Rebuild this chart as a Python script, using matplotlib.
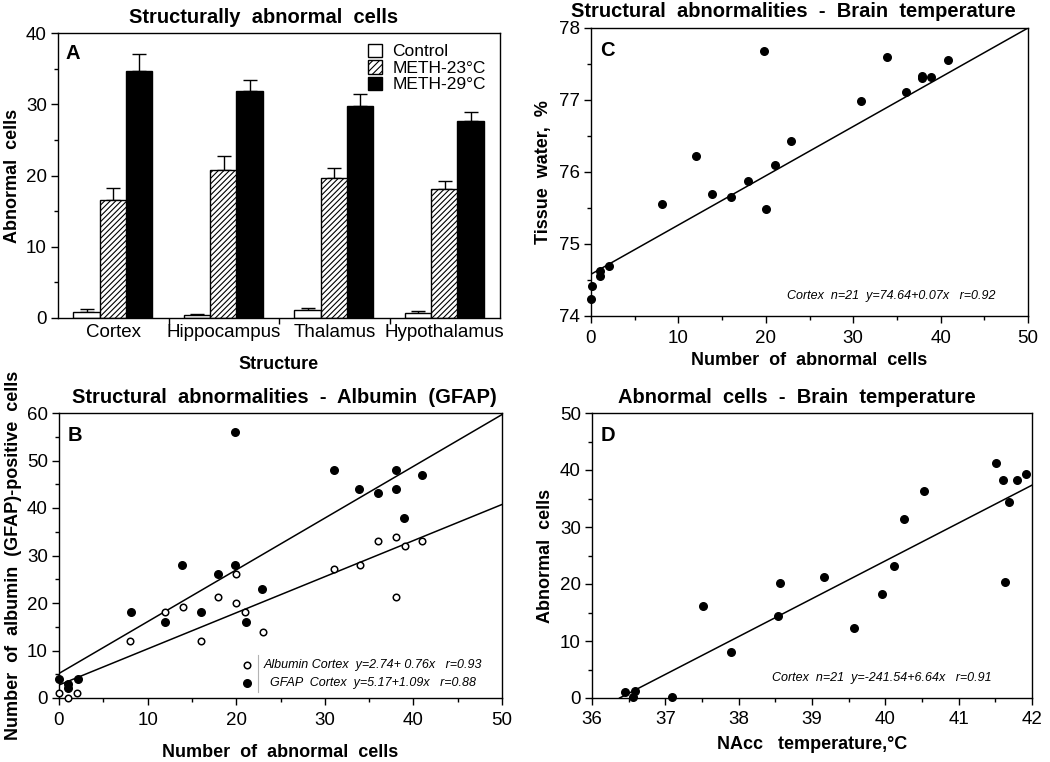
import matplotlib
matplotlib.use("Agg")
import matplotlib.pyplot as plt
from matplotlib.patches import Patch
from matplotlib.ticker import MultipleLocator
from matplotlib import font_manager
import numpy as np

# ---------------- data ----------------
structures = ["Cortex", "Hippocampus", "Thalamus", "Hypothalamus"]
group_names = ["Control", "METH-23°C", "METH-29°C"]
control_mean = [0.9, 0.45, 1.1, 0.75]
control_err = [0.35, 0.15, 0.35, 0.2]
meth23_mean = [16.5, 20.8, 19.7, 18.1]
meth23_err = [1.75, 2.0, 1.4, 1.1]
meth29_mean = [34.7, 31.8, 29.8, 27.6]
meth29_err = [2.35, 1.65, 1.7, 1.3]

# Panel B
gfap_x = [0, 1, 1, 2.1, 8.1, 12, 13.9, 16, 18, 19.9, 19.9, 21.1, 22.9, 31, 33.9, 36, 38, 38, 38.9, 41]
gfap_y = [4.0, 3.0, 2.1, 4.0, 18.2, 16.1, 28.0, 18.2, 26.2, 56.0, 28.0, 16.1, 22.9, 48.1, 43.9, 43.1, 48.1, 43.9, 38.0, 46.9]
alb_x = [0, 1, 2, 8, 12, 14, 16, 18, 20, 20, 21, 23, 31, 34, 36, 38, 38, 39, 41]
alb_y = [1.0, 0.1, 1.0, 12.0, 18.2, 19.1, 12.0, 21.2, 26.2, 20.0, 18.2, 14.0, 27.2, 28.0, 33.0, 34.0, 21.2, 32.1, 33.0]
alb_fit = [2.74, 0.76]
gfap_fit = [5.17, 1.09]

# Panel C
c_x = [0.1, 0, 1.0, 1.0, 2.1, 8.1, 12.0, 13.9, 16.0, 18.0, 19.8, 20.0, 21.0, 22.9, 30.9, 33.9, 36.0, 37.9, 37.9, 38.9, 40.9]
c_y = [74.42, 74.24, 74.62, 74.56, 74.69, 75.55, 76.22, 75.69, 75.65, 75.88, 77.68, 75.49, 76.10, 76.43, 76.98, 77.60, 77.11, 77.34, 77.30, 77.32, 77.56]
c_fit = [74.58, 0.0684]

# Panel D
d_x = [36.45, 36.58, 36.56, 37.09, 37.51, 37.89, 38.53, 38.56, 39.16, 39.57, 39.96, 40.12, 40.25, 40.53, 41.51, 41.60, 41.63, 41.68, 41.79, 41.92]
d_y = [1.05, 1.17, 0.1, 0.1, 16.2, 8.0, 14.3, 20.2, 21.2, 12.3, 18.3, 23.2, 31.4, 36.3, 41.3, 38.3, 20.3, 34.4, 38.3, 39.3]
d_fit = [-241.54, 6.64]

# ---------------- style ----------------
plt.rcParams['font.family'] = ['Liberation Sans', 'DejaVu Sans']
plt.rcParams['hatch.linewidth'] = 0.8
available = {f.name for f in font_manager.fontManager.ttflist}
if 'Liberation Sans Narrow' in available:
    ann_font = dict(family=['Liberation Sans Narrow', 'DejaVu Sans'], style='italic', fontsize=10.5)
else:
    ann_font = dict(family=['Liberation Sans', 'DejaVu Sans'], style='italic', fontsize=9)

W, H = 1050, 762
fig = plt.figure(figsize=(W / 100, H / 100), dpi=100)


def rect(l, r, t, b):
    return [l / W, (H - b) / H, (r - l) / W, (b - t) / H]


def style_axes(ax):
    for s in ax.spines.values():
        s.set_linewidth(1.0)
    ax.tick_params(which='both', direction='out', top=False, right=False, labelsize=13.5)
    ax.tick_params(which='major', length=5, width=1.0)
    ax.tick_params(which='minor', length=3, width=1.0)
    ax.tick_params(axis='y', pad=3)


TITLE = dict(fontsize=14.5, fontweight='bold')
LABEL = dict(fontsize=13, fontweight='bold')
LETTER = dict(fontsize=14.5, fontweight='bold', va='top')
MS_FILLED = 30
MS_OPEN = 22

# ---------------- Panel A ----------------
axA = fig.add_axes(rect(58, 500, 33, 318))
style_axes(axA)
xg = np.arange(len(structures))
bw = 0.24
offs = [-0.24, 0.0, 0.235]
means = [control_mean, meth23_mean, meth29_mean]
errs = [control_err, meth23_err, meth29_err]
faces = ['white', 'white', 'black']
hatches = [None, '//////', None]
for m, e, o, fc, h in zip(means, errs, offs, faces, hatches):
    axA.bar(xg + o, m, width=bw, color=fc, edgecolor='black', linewidth=1.0, hatch=h, zorder=2)
    axA.errorbar(xg + o, m, yerr=[np.zeros(len(m)), e], fmt='none', ecolor='black',
                 elinewidth=1.0, capsize=4.7, capthick=1.0, zorder=1)
axA.set_xlim(-0.5, 3.5)
axA.set_ylim(0, 40)
axA.set_xticks(xg)
axA.set_xticklabels(structures, fontsize=13.5)
axA.tick_params(axis='x', which='major', length=0, pad=4)
axA.set_xticks([0.5, 1.5, 2.5], minor=True)
axA.tick_params(axis='x', which='minor', length=4)
axA.yaxis.set_major_locator(MultipleLocator(10))
axA.yaxis.set_minor_locator(MultipleLocator(5))
axA.set_title("Structurally  abnormal  cells", x=0.466, pad=7, **TITLE)
axA.set_xlabel("Structure", **LABEL)
axA.xaxis.set_label_coords(0.5, -0.133)
axA.set_ylabel("Abnormal  cells", **LABEL)
axA.yaxis.set_label_coords(-0.084, 0.5)
axA.text(0.018, 0.96, "A", transform=axA.transAxes, **LETTER)
handles = [Patch(facecolor=fc, edgecolor='black', hatch=h, linewidth=1.0) for fc, h in zip(faces, ['', '/////', ''])]
axA.legend(handles, group_names, loc='upper right', bbox_to_anchor=(0.995, 1.005), frameon=False,
           fontsize=12.5, handlelength=0.8, handleheight=0.8, handletextpad=0.6, labelspacing=0.05,
           borderpad=0.2)

# ---------------- Panel B ----------------
axB = fig.add_axes(rect(59, 502, 413, 698))
style_axes(axB)
xx = np.array([0, 50])
axB.plot(xx, gfap_fit[0] + gfap_fit[1] * xx, color='black', lw=1.1, zorder=1)
axB.plot(xx, alb_fit[0] + alb_fit[1] * xx, color='black', lw=1.1, zorder=1)
axB.scatter(gfap_x, gfap_y, s=MS_FILLED, color='black', zorder=3, clip_on=False)
axB.scatter(alb_x, alb_y, s=MS_OPEN, facecolor='white', edgecolor='black', linewidth=1.1, zorder=3, clip_on=False)
axB.set_xlim(0, 50)
axB.set_ylim(0, 60)
axB.xaxis.set_major_locator(MultipleLocator(10))
axB.xaxis.set_minor_locator(MultipleLocator(5))
axB.yaxis.set_major_locator(MultipleLocator(10))
axB.yaxis.set_minor_locator(MultipleLocator(5))
axB.tick_params(axis='x', pad=5)
axB.set_title("Structural  abnormalities  -  Albumin  (GFAP)", x=0.508, pad=7, **TITLE)
axB.set_xlabel("Number  of  abnormal  cells", **LABEL)
axB.xaxis.set_label_coords(0.5, -0.163)
axB.set_ylabel("Number  of  albumin  (GFAP)-positive  cells", **LABEL)
axB.yaxis.set_label_coords(-0.083, 0.5)
axB.text(0.02, 0.955, "B", transform=axB.transAxes, **LETTER)
axB.scatter([0.425], [0.117], s=MS_OPEN, facecolor='white', edgecolor='black', linewidth=1.1,
            transform=axB.transAxes, zorder=4)
axB.scatter([0.425], [0.053], s=MS_FILLED, color='black', transform=axB.transAxes, zorder=4)
axB.plot([0.449, 0.449], [0.02, 0.15], color='0.7', lw=0.8, transform=axB.transAxes)
axB.text(0.462, 0.117, "Albumin Cortex  y=2.74+ 0.76x   r=0.93", transform=axB.transAxes,
         va='center', ha='left', **ann_font)
axB.text(0.477, 0.053, "GFAP  Cortex  y=5.17+1.09x   r=0.88", transform=axB.transAxes,
         va='center', ha='left', **ann_font)

# ---------------- Panel C ----------------
axC = fig.add_axes(rect(591, 1028, 28, 316))
style_axes(axC)
axC.plot(xx, c_fit[0] + c_fit[1] * xx, color='black', lw=1.1, zorder=1)
axC.scatter(c_x, c_y, s=MS_FILLED, color='black', zorder=3, clip_on=False)
axC.set_xlim(0, 50)
axC.set_ylim(74, 78)
axC.xaxis.set_major_locator(MultipleLocator(10))
axC.xaxis.set_minor_locator(MultipleLocator(5))
axC.yaxis.set_major_locator(MultipleLocator(1))
axC.yaxis.set_minor_locator(MultipleLocator(0.5))
axC.tick_params(axis='x', pad=5)
axC.set_title("Structural  abnormalities  -  Brain  temperature", x=0.462, pad=8, **TITLE)
axC.set_xlabel("Number  of  abnormal  cells", **LABEL)
axC.xaxis.set_label_coords(0.5, -0.125)
axC.set_ylabel("Tissue  water,  %", **LABEL)
axC.yaxis.set_label_coords(-0.089, 0.5)
axC.text(0.02, 0.955, "C", transform=axC.transAxes, **LETTER)
axC.text(0.449, 0.07, "Cortex  n=21  y=74.64+0.07x   r=0.92", transform=axC.transAxes,
         va='center', ha='left', **ann_font)

# ---------------- Panel D ----------------
axD = fig.add_axes(rect(592, 1032, 413, 698))
style_axes(axD)
x0 = -d_fit[0] / d_fit[1]
xd = np.array([x0, 42])
axD.plot(xd, d_fit[0] + d_fit[1] * xd, color='black', lw=1.1, zorder=1)
axD.scatter(d_x, d_y, s=MS_FILLED, color='black', zorder=3, clip_on=False)
axD.set_xlim(36, 42)
axD.set_ylim(0, 50)
axD.xaxis.set_major_locator(MultipleLocator(1))
axD.xaxis.set_minor_locator(MultipleLocator(0.5))
axD.yaxis.set_major_locator(MultipleLocator(10))
axD.yaxis.set_minor_locator(MultipleLocator(5))
axD.tick_params(axis='x', pad=4)
axD.set_title("Abnormal  cells  -  Brain  temperature", x=0.466, pad=7, **TITLE)
axD.set_xlabel("NAcc   temperature,°C", **LABEL)
axD.xaxis.set_label_coords(0.5, -0.133)
axD.set_ylabel("Abnormal  cells", **LABEL)
axD.yaxis.set_label_coords(-0.086, 0.5)
axD.text(0.02, 0.955, "D", transform=axD.transAxes, **LETTER)
axD.text(0.409, 0.07, "Cortex  n=21  y=-241.54+6.64x   r=0.91", transform=axD.transAxes,
         va='center', ha='left', **ann_font)

fig.savefig("out.png", dpi=100)
